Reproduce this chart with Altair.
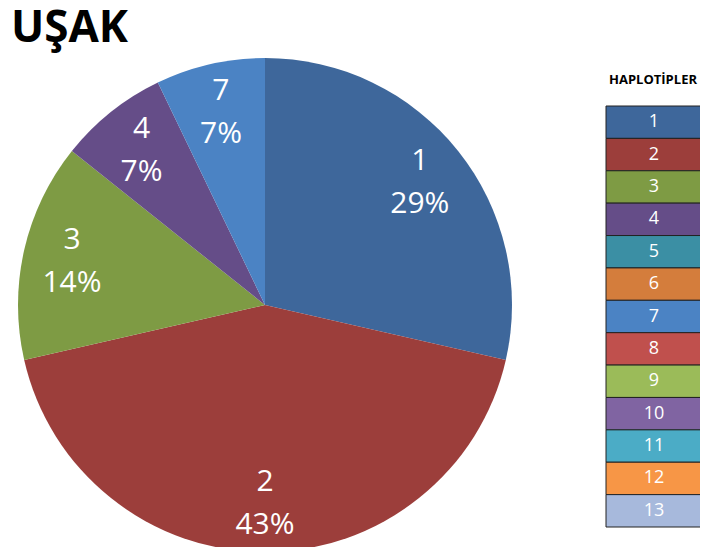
import altair as alt
import pandas as pd

# Data
slice_haplotypes = ["1", "2", "3", "4", "7"]
slice_counts = [4, 6, 2, 1, 1]
slice_percents = ["29%", "43%", "14%", "7%", "7%"]

legend_haplotypes = [str(i) for i in range(1, 14)]
legend_colors = ["#3E679B", "#9C3E3B", "#7E9B44", "#654D88", "#3B8FA4", "#D47D3C",
                 "#4B83C4", "#C0504D", "#9BBB59", "#8064A2", "#4BACC6", "#F79646", "#A7B9DC"]

title_text = "UŞAK"
legend_title = "HAPLOTİPLER"

pie_df = pd.DataFrame({
    "hap": slice_haplotypes,
    "count": slice_counts,
    "pct": slice_percents,
    "order": list(range(len(slice_haplotypes))),
})
pie_df["label"] = pie_df["hap"] + "\n" + pie_df["pct"]

leg_df = pd.DataFrame({"hap": legend_haplotypes})

color_scale = alt.Scale(domain=legend_haplotypes, range=legend_colors)

CX, CY, R = 257, 297, 247

base = alt.Chart(pie_df).encode(
    theta=alt.Theta("count:Q", stack=True),
    order=alt.Order("order:Q"),
)

arcs = base.mark_arc(outerRadius=R, x=CX, y=CY).encode(
    color=alt.Color("hap:N", scale=color_scale, legend=None)
)

labels = base.mark_text(
    radius=198, x=CX, y=CY, dy=-21, color="white", fontSize=30, font="Open Sans",
    lineBreak="\n", lineHeight=43, baseline="middle", align="center"
).encode(text="label:N")

ysc = alt.Scale(domain=legend_haplotypes, range=[98, 519], paddingInner=0, paddingOuter=0)

leg_rects = alt.Chart(leg_df).mark_rect(stroke="#222222", strokeWidth=1).encode(
    y=alt.Y("hap:N", scale=ysc, axis=None, sort=legend_haplotypes),
    x=alt.value(598),
    x2=alt.value(694),
    color=alt.Color("hap:N", scale=color_scale, legend=None),
)

leg_text = alt.Chart(leg_df).mark_text(
    color="white", fontSize=18, font="Open Sans", baseline="middle", align="center"
).encode(
    y=alt.Y("hap:N", scale=ysc, axis=None, sort=legend_haplotypes, bandPosition=0.5),
    x=alt.value(646),
    text="hap:N",
)

title_df = pd.DataFrame({"t": [title_text]})
title_mark = alt.Chart(title_df).mark_text(
    font="Open Sans", fontWeight="bold", fontSize=44, align="left", baseline="alphabetic", color="black"
).encode(x=alt.value(3), y=alt.value(34), text="t:N")

lt_df = pd.DataFrame({"t": [legend_title]})
lt_mark = alt.Chart(lt_df).mark_text(
    font="Open Sans", fontWeight="bold", fontSize=13, align="center", baseline="middle", color="black"
).encode(x=alt.value(645), y=alt.value(72), text="t:N")

chart = alt.layer(arcs, labels, leg_rects, leg_text, title_mark, lt_mark).resolve_scale(
    theta="independent"
).properties(
    width=692, height=539, padding=0, autosize=alt.AutoSizeParams(type="none")
).configure_view(stroke=None)

chart.save("out.html", embed_options={"renderer": "svg", "actions": False})
